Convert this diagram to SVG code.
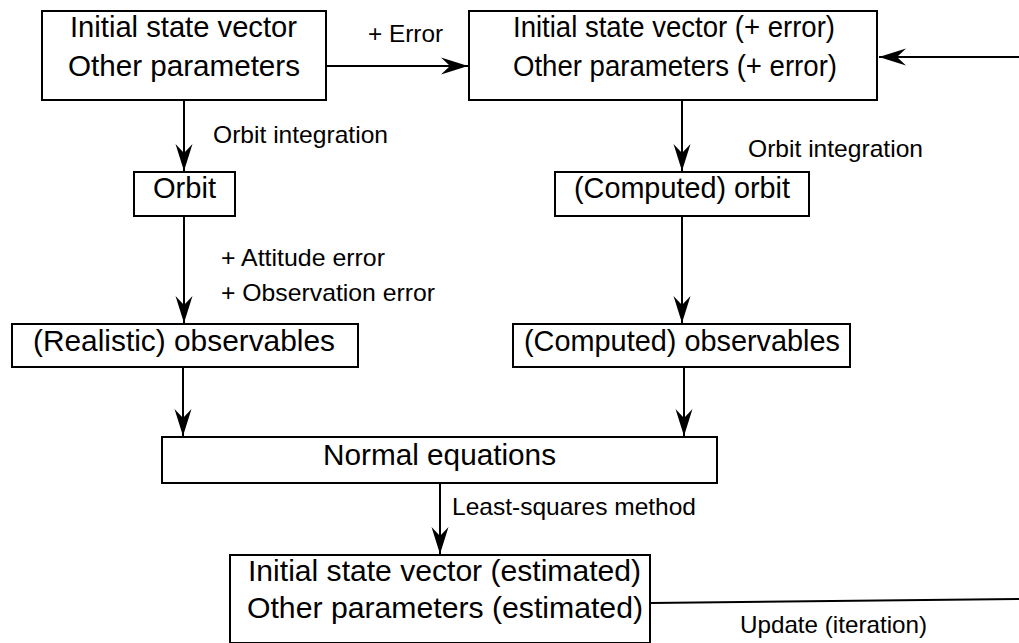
<svg xmlns="http://www.w3.org/2000/svg" width="1019" height="643" viewBox="0 0 1019 643">
  <style>
    .box { fill: #ffffff; stroke: #000000; stroke-width: 2; }
    .t { font-family: "Liberation Sans", Arial, Helvetica, sans-serif; font-size: 30px; fill: #000000; }
    .lbl { font-family: "Liberation Sans", Arial, Helvetica, sans-serif; font-size: 24px; fill: #000000; }
    .edge { fill: none; stroke: #000000; stroke-width: 2; }
  </style>
  <defs>
    <marker id="arrow" markerUnits="userSpaceOnUse" markerWidth="30" markerHeight="20" viewBox="-28 -10 30 20" refX="0" refY="0" orient="auto">
      <path d="M0,0 L-27,-8.5 L-18,0 L-27,8.5 Z" fill="#000000"/>
    </marker>
  </defs>
  <rect width="1019" height="643" fill="#ffffff"/>

  <!-- connectors and their labels -->
  <g id="connectors">
    <line class="edge" x1="327" y1="66" x2="468" y2="66" marker-end="url(#arrow)"/>
    <line class="edge" x1="1019" y1="57" x2="879" y2="57" marker-end="url(#arrow)"/>
    <line class="edge" x1="184" y1="101" x2="184" y2="171" marker-end="url(#arrow)"/>
    <line class="edge" x1="184" y1="217" x2="184" y2="323" marker-end="url(#arrow)"/>
    <line class="edge" x1="682" y1="101" x2="682" y2="171" marker-end="url(#arrow)"/>
    <line class="edge" x1="682" y1="217" x2="682" y2="323" marker-end="url(#arrow)"/>
    <line class="edge" x1="183" y1="368" x2="183" y2="436" marker-end="url(#arrow)"/>
    <line class="edge" x1="684" y1="368" x2="684" y2="436" marker-end="url(#arrow)"/>
    <line class="edge" x1="440" y1="484" x2="440" y2="554" marker-end="url(#arrow)"/>
    <line class="edge" x1="651" y1="603" x2="1019" y2="599"/>
    <text class="lbl" x="368" y="42" textLength="75" lengthAdjust="spacingAndGlyphs">+ Error</text>
    <text class="lbl" x="213" y="143" textLength="175" lengthAdjust="spacingAndGlyphs">Orbit integration</text>
    <text class="lbl" x="748" y="157" textLength="175" lengthAdjust="spacingAndGlyphs">Orbit integration</text>
    <text class="lbl" x="221" y="266" textLength="164" lengthAdjust="spacingAndGlyphs">+ Attitude error</text>
    <text class="lbl" x="221" y="301" textLength="214" lengthAdjust="spacingAndGlyphs">+ Observation error</text>
    <text class="lbl" x="452" y="515" textLength="244" lengthAdjust="spacingAndGlyphs">Least-squares method</text>
    <text class="lbl" x="740" y="633" textLength="187" lengthAdjust="spacingAndGlyphs">Update (iteration)</text>
  </g>

  <g id="node-initial">
    <rect class="box" x="42" y="11" width="284" height="89"/>
    <text class="t" x="70" y="37" textLength="227" lengthAdjust="spacingAndGlyphs">Initial state vector</text>
    <text class="t" x="68" y="76" textLength="232" lengthAdjust="spacingAndGlyphs">Other parameters</text>
  </g>

  <g id="node-initial-error">
    <rect class="box" x="469" y="11" width="408" height="89"/>
    <text class="t" x="513" y="37" textLength="322" lengthAdjust="spacingAndGlyphs">Initial state vector (+ error)</text>
    <text class="t" x="513" y="76" textLength="324" lengthAdjust="spacingAndGlyphs">Other parameters (+ error)</text>
  </g>

  <g id="node-orbit">
    <rect class="box" x="134" y="172" width="101" height="44"/>
    <text class="t" x="153" y="198" textLength="63" lengthAdjust="spacingAndGlyphs">Orbit</text>
  </g>

  <g id="node-computed-orbit">
    <rect class="box" x="555" y="172" width="254" height="44"/>
    <text class="t" x="574" y="198" textLength="216" lengthAdjust="spacingAndGlyphs">(Computed) orbit</text>
  </g>

  <g id="node-realistic-observables">
    <rect class="box" x="12" y="324" width="346" height="43"/>
    <text class="t" x="33" y="351" textLength="302" lengthAdjust="spacingAndGlyphs">(Realistic) observables</text>
  </g>

  <g id="node-computed-observables">
    <rect class="box" x="513" y="324" width="337" height="43"/>
    <text class="t" x="524" y="351" textLength="316" lengthAdjust="spacingAndGlyphs">(Computed) observables</text>
  </g>

  <g id="node-normal-equations">
    <rect class="box" x="162" y="437" width="555" height="46"/>
    <text class="t" x="323" y="465" textLength="233" lengthAdjust="spacingAndGlyphs">Normal equations</text>
  </g>

  <g id="node-estimated">
    <rect class="box" x="230" y="555" width="420" height="88"/>
    <text class="t" x="248" y="581" textLength="393" lengthAdjust="spacingAndGlyphs">Initial state vector (estimated)</text>
    <text class="t" x="247" y="618" textLength="396" lengthAdjust="spacingAndGlyphs">Other parameters (estimated)</text>
  </g>
</svg>
